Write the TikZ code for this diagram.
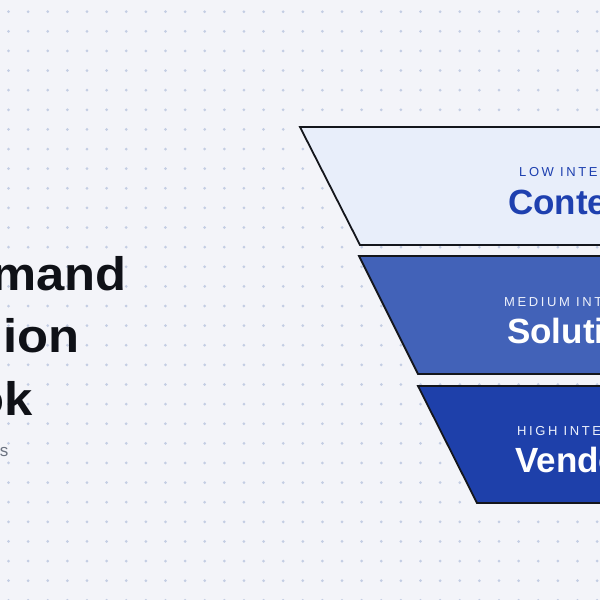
\documentclass[tikz,border=0pt]{standalone}
\usepackage{fontspec}
\setmainfont{Liberation Sans}
\newfontfamily\labelfont[LetterSpace=20]{Liberation Sans}
\newfontfamily\titlefont[FakeStretch=1.08]{Liberation Sans}
\definecolor{bgc}{HTML}{F3F4F9}
\definecolor{dotc}{HTML}{C3CDE3}
\definecolor{titlec}{HTML}{0F1117}
\definecolor{subc}{HTML}{6B7280}
\definecolor{lowfill}{HTML}{E8EEFA}
\definecolor{lowtext}{HTML}{1E40AF}
\definecolor{midfill}{HTML}{4262B8}
\definecolor{highfill}{HTML}{1E40AA}
\definecolor{edgec}{HTML}{14161C}
\definecolor{paletext}{HTML}{EEF2FC}
\begin{document}
\begin{tikzpicture}[x=1pt,y=-1pt,
  stage/.style={draw=edgec,line width=1.8pt,line join=miter},
  bigtitle/.style={font=\fontsize{47}{47}\selectfont\titlefont\bfseries,text=titlec,inner sep=0,anchor=base east},
  stagelabel/.style={font=\fontsize{13}{13}\selectfont\labelfont,inner sep=0,anchor=base west},
  stagename/.style={font=\fontsize{35}{35}\selectfont\bfseries,inner sep=0,anchor=base west}]
\useasboundingbox (0,0) rectangle (600,600);
\clip (0,0) rectangle (600,600);
\fill[bgc] (0,0) rectangle (600,600);
\foreach \i in {0,...,30}{
  \foreach \j in {0,...,30}{
    \fill[dotc] ({8.5+19.62*\i},{11.7+19.62*\j}) circle (1.5);
  }
}
% funnel stages
\path[stage,fill=lowfill] (300,127) -- (720,127) -- (720,245) -- (360,245) -- cycle;
\path[stage,fill=midfill] (359,256) -- (720,256) -- (720,374) -- (418,374) -- cycle;
\path[stage,fill=highfill] (418,386) -- (720,386) -- (720,503) -- (477,503) -- cycle;
\node[stagelabel,text=lowtext] (l1) at (519,176) {LOW INTE};
\node[stagename,text=lowtext] (n1) at (508,214) {Conte};
\node[stagelabel,text=paletext] (l2) at (504,306.5) {MEDIUM INT};
\node[stagename,text=white] (n2) at (507,343) {Solutio};
\node[stagelabel,text=paletext] (l3) at (517,435.5) {HIGH INTE};
\node[stagename,text=white] (n3) at (515,472) {Vendo};
% left title
\node[bigtitle] (t1) at (127,290) {mand};
\node[bigtitle] (t2) at (80,352) {ion};
\node[bigtitle] (t3) at (33,415) {ok};
\node[font=\fontsize{17}{17}\selectfont,text=subc,inner sep=0,anchor=base east] (s1) at (8.5,456) {s};
\end{tikzpicture}
\end{document}
